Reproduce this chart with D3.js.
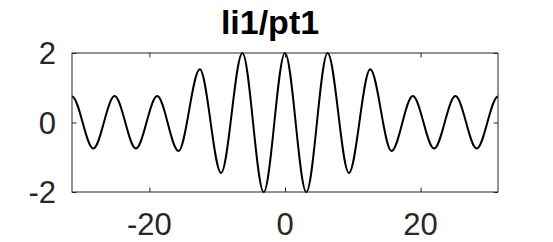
<!DOCTYPE html>
<html>
<head>
<meta charset="utf-8">
<script src="https://cdn.jsdelivr.net/npm/d3@7"></script>
<style>
body { margin: 0; background: #fff; }
text { font-family: "Liberation Sans", Arial, Helvetica, sans-serif; }
</style>
</head>
<body>
<script>
// data
var xTickValues = [-20, 0, 20]
var yTickValues = [-2, 0, 2]
// extrema of the wave, at multiples of pi (outer ones sit beyond the frame, clipped)
var extremaK = [-11, -10, -9, -8, -7, -6, -5, -4, -3, -2, -1, 0, 1, 2, 3, 4, 5, 6, 7, 8, 9, 10, 11]
var extremaY = [-0.75, 0.75, -0.75, 0.76, -0.75, 0.76, -0.82, 1.53, -1.45, 2, -2, 2, -2, 2, -1.45, 1.53, -0.82, 0.76, -0.75, 0.76, -0.75, 0.75, -0.75]
var titleText = 'li1/pt1'

var W = 553, H = 242
var plotL = 72, plotR = 498, plotT = 53, plotB = 192
var axisColor = '#262626'

var svg = d3.select('body').append('svg')
  .attr('width', W)
  .attr('height', H)

svg.append('rect')
  .attr('width', W)
  .attr('height', H)
  .attr('fill', '#fff')

var x = d3.scaleLinear().domain([-10 * Math.PI, 10 * Math.PI]).range([plotL, plotR])
var y = d3.scaleLinear().domain([-2, 2]).range([plotB, plotT])

svg.append('clipPath').attr('id', 'plotclip')
  .append('rect')
  .attr('x', plotL)
  .attr('y', plotT - 2)
  .attr('width', plotR - plotL)
  .attr('height', plotB - plotT + 4)

var pts = extremaK.map(function(k, i) { return [k * Math.PI, extremaY[i]] })

var line = d3.line()
  .x(function(d) { return x(d[0]) })
  .y(function(d) { return y(d[1]) })
  .curve(d3.curveMonotoneX)

svg.append('path')
  .datum(pts)
  .attr('d', line)
  .attr('fill', 'none')
  .attr('stroke', '#000')
  .attr('stroke-width', 2)
  .attr('clip-path', 'url(#plotclip)')

// box + ticks
var tickLen = 4.5
var xAxisB = d3.axisBottom(x).tickValues(xTickValues).tickSize(-tickLen).tickFormat('')
var xAxisT = d3.axisTop(x).tickValues(xTickValues).tickSize(-tickLen).tickFormat('')
var yAxisL = d3.axisLeft(y).tickValues(yTickValues).tickSize(-tickLen).tickFormat('')
var yAxisR = d3.axisRight(y).tickValues(yTickValues).tickSize(-tickLen).tickFormat('')

svg.append('g').attr('transform', 'translate(0,' + plotB + ')').call(xAxisB)
svg.append('g').attr('transform', 'translate(0,' + plotT + ')').call(xAxisT)
svg.append('g').attr('transform', 'translate(' + plotL + ',0)').call(yAxisL)
svg.append('g').attr('transform', 'translate(' + plotR + ',0)').call(yAxisR)

svg.selectAll('.tick line')
  .attr('stroke', axisColor)
  .attr('stroke-width', 1)
svg.selectAll('.domain').remove()

svg.append('rect')
  .attr('x', plotL)
  .attr('y', plotT)
  .attr('width', plotR - plotL)
  .attr('height', plotB - plotT)
  .attr('fill', 'none')
  .attr('stroke', axisColor)
  .attr('stroke-width', 1)

// tick labels
svg.selectAll('.xlab')
  .data(xTickValues)
  .enter().append('text')
  .attr('class', 'xlab')
  .attr('x', function(d) { return x(d) })
  .attr('y', 235)
  .attr('text-anchor', 'middle')
  .attr('font-size', 31)
  .attr('fill', axisColor)
  .text(function(d) { return d })

svg.selectAll('.ylab')
  .data(yTickValues)
  .enter().append('text')
  .attr('class', 'ylab')
  .attr('x', 56)
  .attr('y', function(d) { return y(d) + 11 })
  .attr('text-anchor', 'end')
  .attr('font-size', 31)
  .attr('fill', axisColor)
  .text(function(d) { return d })

svg.append('text')
  .attr('x', 270)
  .attr('y', 34)
  .attr('text-anchor', 'middle')
  .attr('font-size', 34)
  .attr('font-weight', 'bold')
  .attr('fill', '#000')
  .text(titleText)
</script>
</body>
</html>
